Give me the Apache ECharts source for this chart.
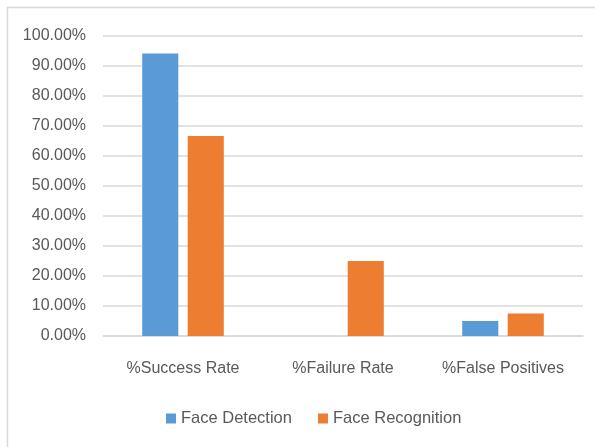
<!DOCTYPE html>
<html>
<head>
<meta charset="utf-8">
<script src="https://cdn.jsdelivr.net/npm/echarts@6/dist/echarts.min.js"></script>
<style>
  html, body { margin: 0; padding: 0; background: #fff; }
  #chart { width: 595px; height: 447px; }
</style>
</head>
<body>
<div id="chart"></div>
<script>
// data
const categories = ['%Success Rate', '%Failure Rate', '%False Positives']
const faceDetection = [94.2, 0, 5.0]
const faceRecognition = [66.7, 25.0, 7.5]
const seriesNames = ['Face Detection', 'Face Recognition']

const TEXT = '#595959'
const GRID = '#D9D9D9'
const FONT = '"Liberation Sans", Arial, sans-serif'

const chart = echarts.init(document.getElementById('chart'))

chart.setOption({
  animation: false,
  color: ['#5B9BD5', '#ED7D31'],
  textStyle: { fontFamily: FONT, color: TEXT },
  graphic: [
    // chart-area frame (only top and left edges fall inside the picture)
    {
      type: 'rect',
      shape: { x: 7.5, y: 7.5, width: 620, height: 470 },
      style: { fill: 'none', stroke: GRID, lineWidth: 1.5 },
      silent: true,
    },
  ],
  grid: {
    left: 103,
    right: 12,
    top: 36,
    bottom: 111,
    containLabel: false,
  },
  legend: {
    bottom: 15,
    left: 161,
    icon: 'rect',
    itemWidth: 10,
    itemHeight: 10,
    itemGap: 26,
    textStyle: { fontFamily: FONT, fontSize: 16.5, color: TEXT },
    data: seriesNames,
  },
  xAxis: {
    type: 'category',
    data: categories,
    axisTick: { show: false },
    axisLine: { lineStyle: { color: GRID, width: 1.5 } },
    axisLabel: { margin: 25, fontSize: 16, color: TEXT, fontFamily: FONT },
  },
  yAxis: {
    type: 'value',
    min: 0,
    max: 100,
    interval: 10,
    axisLine: { show: false },
    axisTick: { show: false },
    splitLine: { lineStyle: { color: GRID, width: 1.5 } },
    axisLabel: {
      margin: 17,
      fontSize: 16,
      color: TEXT,
      fontFamily: FONT,
      formatter: v => v.toFixed(2) + '%',
    },
  },
  series: [
    {
      name: seriesNames[0],
      type: 'bar',
      data: faceDetection,
      barGap: '26%',
      barCategoryGap: '49%',
    },
    {
      name: seriesNames[1],
      type: 'bar',
      data: faceRecognition,
      barGap: '26%',
      barCategoryGap: '49%',
    },
  ],
})
</script>
</body>
</html>
